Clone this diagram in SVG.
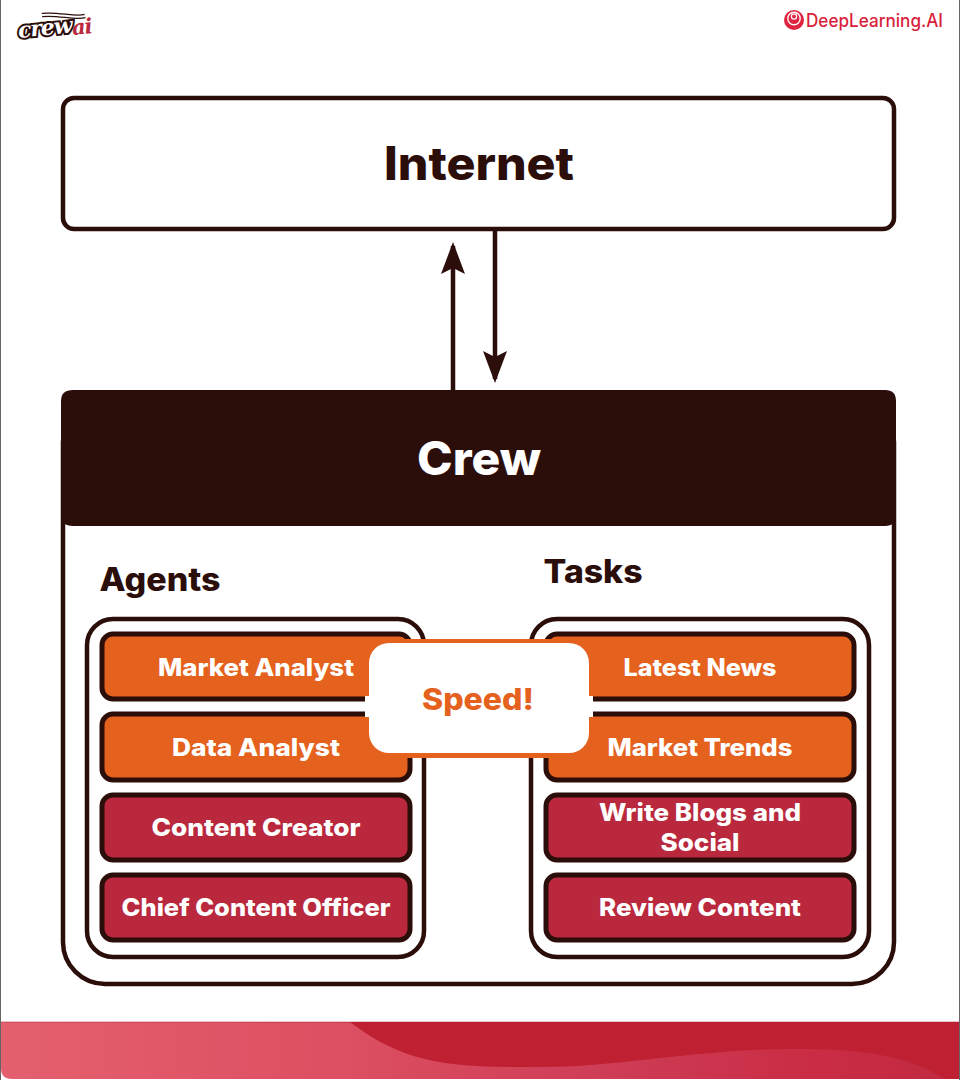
<svg xmlns="http://www.w3.org/2000/svg" width="960" height="1080" viewBox="0 0 960 1080">
<style>
text{font-family:"Inter","Open Sans","Liberation Sans",sans-serif;font-weight:800;text-anchor:middle}
.dark{fill:#2b0d0a}
.w{fill:#fff;font-size:24px}
.box{stroke:#2b0d0a;stroke-width:4.5;fill:#fff}
.o{fill:#e4611e;stroke:#2b0d0a;stroke-width:5}
.r{fill:#b9283c;stroke:#2b0d0a;stroke-width:5}
.line{stroke:#2b0d0a;stroke-width:4.5;fill:none}
</style>
<defs>
<linearGradient id="g" x1="0" x2="1" y1="0" y2="0"><stop offset="0" stop-color="#e4606f"/><stop offset="0.35" stop-color="#dd4f62"/><stop offset="0.6" stop-color="#cf3f58"/><stop offset="0.85" stop-color="#ca2c45"/><stop offset="1" stop-color="#c02a40"/></linearGradient>
<marker id="a" markerUnits="userSpaceOnUse" markerWidth="34" markerHeight="26" refX="28" refY="12" orient="auto"><path d="M0 0L32 12L0 24L6 12Z" fill="#2b0d0a"/></marker>
</defs>
<rect width="960" height="1080" fill="#fff"/>
<path d="M0.5 0V1080M959.5 0V1080" stroke="#666" stroke-width="1"/>
<g id="footer">
<path d="M1 1022H959V1068Q959 1079 948 1079H12Q1 1079 1 1068Z" fill="url(#g)"/>
<path d="M350 1022H959V1079H945C900 1050 840 1049 790 1049C700 1049 620 1067 540 1067C460 1067 410 1068 350 1022Z" fill="#bf2133"/>
<path d="M1 1022H959" stroke="#a8182c" stroke-width="0.8" opacity="0.6"/>
</g>
<g id="logo-crewai">
<text x="45" y="35" style="font-family:'DejaVu Serif',serif;font-style:italic;font-size:22px;letter-spacing:-1px;paint-order:stroke" fill="#fff" stroke="#2b0d0a" stroke-width="4" transform="rotate(-6 46 30)">crew</text>
<path d="M42 15C58 13 75 19 85 16" stroke="#2b0d0a" stroke-width="4.5" fill="none"/>
<path d="M42 15C58 13 75 19 85 16" stroke="#fff" stroke-width="2" fill="none"/>
<text x="82" y="34" style="font-family:'DejaVu Serif',serif;font-style:italic;font-size:21px;letter-spacing:-1px" fill="#b9283c" transform="rotate(-6 82 30)">ai</text>
</g>
<g id="logo-deeplearning">
<circle cx="794" cy="20" r="10" fill="#e0233f"/>
<circle cx="794" cy="18.5" r="6.2" fill="none" stroke="#fff" stroke-width="1.4"/>
<circle cx="794" cy="16.5" r="2.6" fill="none" stroke="#fff" stroke-width="1.3"/>
<text x="874.5" y="26.5" style="font-size:18px;font-weight:500" fill="#d91f3c" textLength="137" lengthAdjust="spacingAndGlyphs">DeepLearning.AI</text>
</g>
<g id="connectors">
<path class="line" d="M453 390V246" marker-end="url(#a)"/>
<path class="line" d="M495 230V379" marker-end="url(#a)"/>
<path class="line" d="M426 788H519" marker-end="url(#a)"/>
</g>
<g id="internet">
<rect class="box" x="63" y="98" width="831" height="131" rx="11"/>
<text class="dark" x="479" y="180" style="font-size:46px" textLength="190" lengthAdjust="spacingAndGlyphs">Internet</text>
</g>
<g id="crew">
<rect class="box" x="63" y="400" width="831" height="584" rx="42"/>
<path d="M73 390H885Q896 390 896 401V515Q896 526 885 526H73Q61 526 61 515V401Q61 390 73 390Z" fill="#2b0d0a"/>
<text x="479" y="475" fill="#fff" style="font-size:46px" textLength="124" lengthAdjust="spacingAndGlyphs">Crew</text>
</g>
<g id="agents">
<text class="dark" x="160" y="591" style="font-size:32px" textLength="121" lengthAdjust="spacingAndGlyphs">Agents</text>
<rect class="box" x="87" y="619" width="337" height="338" rx="26"/>
</g>
<g id="tasks">
<text class="dark" x="593" y="583" style="font-size:32px" textLength="99" lengthAdjust="spacingAndGlyphs">Tasks</text>
<rect class="box" x="531" y="619" width="338" height="338" rx="26"/>
</g>
<g id="market-analyst"><rect class="o" x="102" y="634" width="308" height="65" rx="11"/><text class="w" x="256" y="676" textLength="196" lengthAdjust="spacingAndGlyphs">Market Analyst</text></g>
<g id="data-analyst"><rect class="o" x="102" y="714" width="308" height="66" rx="11"/><text class="w" x="256" y="756" textLength="168" lengthAdjust="spacingAndGlyphs">Data Analyst</text></g>
<g id="content-creator"><rect class="r" x="102" y="795" width="308" height="65" rx="11"/><text class="w" x="256" y="836" textLength="209" lengthAdjust="spacingAndGlyphs">Content Creator</text></g>
<g id="chief-content-officer"><rect class="r" x="102" y="875" width="308" height="65" rx="11"/><text class="w" x="256" y="916" textLength="269" lengthAdjust="spacingAndGlyphs">Chief Content Officer</text></g>
<g id="latest-news"><rect class="o" x="546" y="634" width="308" height="65" rx="11"/><text class="w" x="700" y="676" textLength="153" lengthAdjust="spacingAndGlyphs">Latest News</text></g>
<g id="market-trends"><rect class="o" x="546" y="714" width="308" height="66" rx="11"/><text class="w" x="700" y="756" textLength="185" lengthAdjust="spacingAndGlyphs">Market Trends</text></g>
<g id="write-blogs"><rect class="r" x="546" y="795" width="308" height="65" rx="11"/><text class="w" x="700" y="821" textLength="202" lengthAdjust="spacingAndGlyphs">Write Blogs and</text><text class="w" x="700" y="851" textLength="79" lengthAdjust="spacingAndGlyphs">Social</text></g>
<g id="review-content"><rect class="r" x="546" y="875" width="308" height="65" rx="11"/><text class="w" x="700" y="916" textLength="202" lengthAdjust="spacingAndGlyphs">Review Content</text></g>
<g id="speed">
<rect x="365" y="639" width="228" height="119" fill="#e4611e"/>
<rect x="365" y="696" width="228" height="21" fill="#fff"/>
<rect x="369" y="643" width="220" height="110" rx="20" fill="#fff"/>
<text x="478" y="710" fill="#e4611e" style="font-size:30px" textLength="112" lengthAdjust="spacingAndGlyphs">Speed!</text>
</g>
</svg>
